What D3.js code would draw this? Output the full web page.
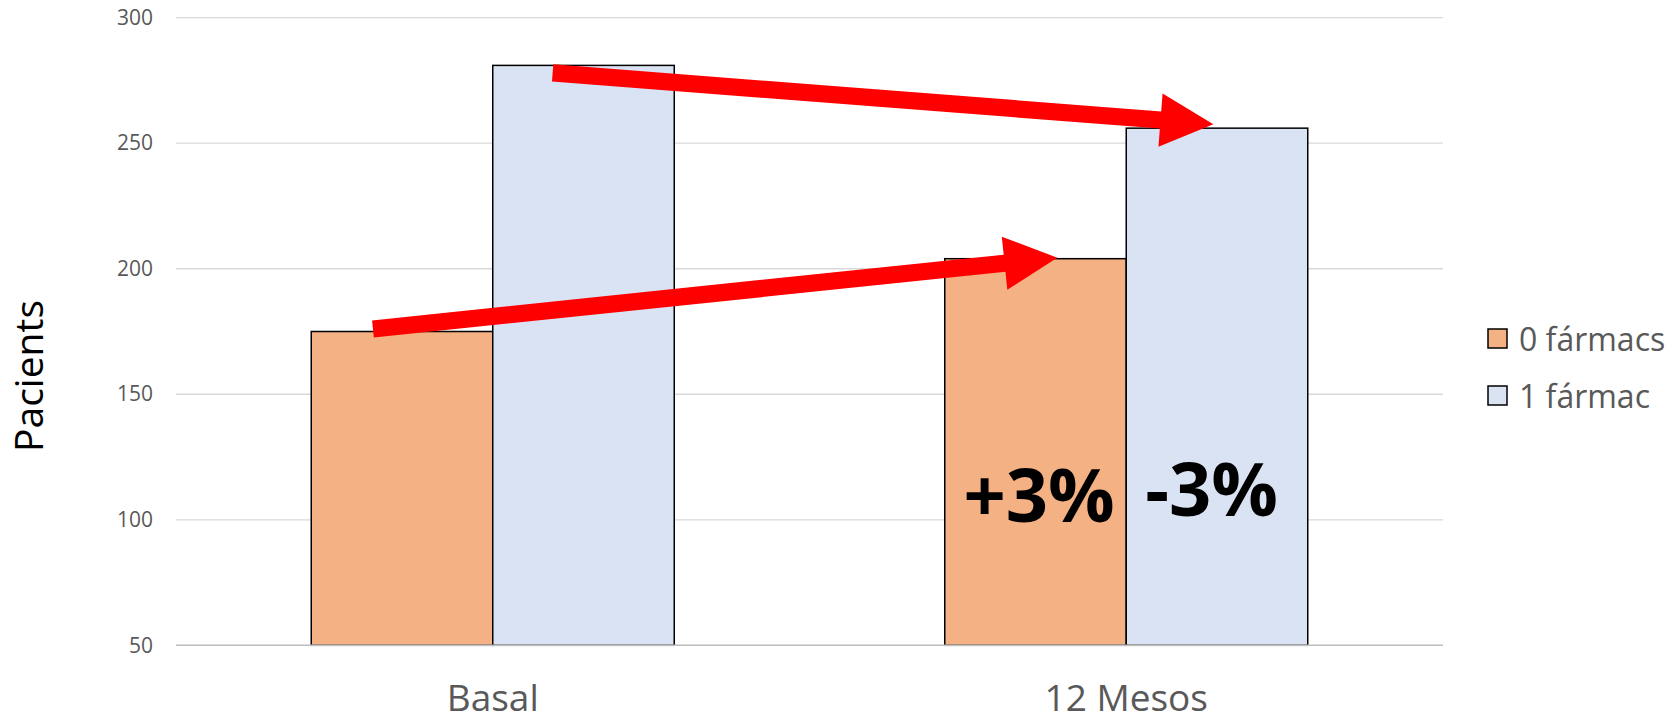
<!DOCTYPE html>
<html>
<head>
<meta charset="utf-8">
<script src="https://cdn.jsdelivr.net/npm/d3@7/dist/d3.min.js"></script>
<style>
  html, body { margin: 0; padding: 0; background: #fff; }
  svg { display: block; font-family: "Open Sans", "Noto Sans", sans-serif; }
</style>
</head>
<body>
<svg id="chart" width="1673" height="717"></svg>
<script>
// Patients per number of drugs, at baseline and after 12 months
const categories = ["Basal", "12 Mesos"];
const seriesNames = ["0 fármacs", "1 fármac"];
const seriesColors = ["#F4B183", "#DAE3F3"];
const zeroDrugs = [175, 204];
const oneDrug = [281, 256];
const yTicks = [50, 100, 150, 200, 250, 300];
const yTitle = "Pacients";

// Change labels placed on the 12-month bars
const changeLabels = ["+3%", "-3%"];
const changeSeries = [0, 1];
const changeAt = [0.52, 0.47];   // position across the bar (0..1)
const changeLevel = [99.3, 101.5]; // baseline height in axis units

// Arrows linking baseline to 12-month bars: [category, series, position across bar, value]
const arrowStarts = [["Basal", 0, 0.34, 176], ["Basal", 1, 0.33, 278]];
const arrowEnds = [["12 Mesos", 0, 0.62, 204.4], ["12 Mesos", 1, 0.48, 257.6]];

const values = [zeroDrugs, oneDrug];

const svg = d3.select("#chart");
const plot = { left: 176, right: 1443, top: 17.7, bottom: 645.3 };

const x = d3.scaleBand()
  .domain(categories)
  .range([plot.left, plot.right])
  .paddingInner(0.427)
  .paddingOuter(0.2135);

const xs = d3.scaleBand()
  .domain(d3.range(seriesNames.length))
  .range([0, x.bandwidth()]);

const y = d3.scaleLinear().domain([50, 300]).range([plot.bottom, plot.top]);

// Gridlines
svg.append("g")
  .selectAll("line")
  .data(yTicks)
  .join("line")
  .attr("x1", plot.left)
  .attr("x2", plot.right)
  .attr("y1", d => y(d))
  .attr("y2", d => y(d))
  .attr("stroke", "#d9d9d9")
  .attr("stroke-width", 1.3);

// Y axis labels
const yAxis = d3.axisLeft(y).tickValues(yTicks).tickSize(0).tickPadding(0);
svg.append("g")
  .attr("transform", `translate(153,0)`)
  .call(yAxis)
  .call(g => g.select(".domain").remove())
  .call(g => g.selectAll("text")
    .attr("fill", "#595959")
    .style("font-size", "21px")
    .style("font-family", "'Open Sans', sans-serif"));

// Bars
const rows = [];
categories.forEach((c, i) => {
  values.forEach((vals, s) => rows.push({ cat: c, s, v: vals[i] }));
});

svg.append("g")
  .selectAll("rect")
  .data(rows)
  .join("rect")
  .attr("x", d => x(d.cat) + xs(d.s))
  .attr("y", d => y(d.v))
  .attr("width", xs.bandwidth())
  .attr("height", d => y(50) - y(d.v))
  .attr("fill", d => seriesColors[d.s])
  .attr("stroke", "#000")
  .attr("stroke-width", 1.5);

// Category axis line
svg.append("line")
  .attr("x1", plot.left)
  .attr("x2", plot.right)
  .attr("y1", y(50))
  .attr("y2", y(50))
  .attr("stroke", "#bfbfbf")
  .attr("stroke-width", 1.5);

// Category labels
const xAxis = d3.axisBottom(x).tickSize(0).tickPadding(0);
svg.append("g")
  .attr("transform", `translate(0,${y(50)})`)
  .call(xAxis)
  .call(g => g.select(".domain").remove())
  .call(g => g.selectAll("text")
    .attr("y", 65.5)
    .attr("dy", null)
    .attr("fill", "#595959")
    .style("font-size", "37px")
    .style("font-family", "'Open Sans', sans-serif"));

// Y title
svg.append("text")
  .attr("transform", "translate(43,376) rotate(-90)")
  .attr("text-anchor", "middle")
  .attr("fill", "#000")
  .style("font-size", "39px")
  .text(yTitle);

// Arrows
function pointOf(a) {
  const [cat, s, pos, v] = a;
  return [x(cat) + xs(s) + pos * xs.bandwidth(), y(v)];
}
const shaftHalf = 8.6, headLen = 53, headHalf = 26.7;
arrowStarts.forEach((a, i) => {
  const S = pointOf(a), T = pointOf(arrowEnds[i]);
  const dx = T[0] - S[0], dy = T[1] - S[1];
  const len = Math.hypot(dx, dy);
  const ux = dx / len, uy = dy / len;
  const nx = -uy, ny = ux;
  const B = [T[0] - ux * headLen, T[1] - uy * headLen];
  const pts = [
    [S[0] + nx * shaftHalf, S[1] + ny * shaftHalf],
    [B[0] + nx * shaftHalf, B[1] + ny * shaftHalf],
    [B[0] + nx * headHalf, B[1] + ny * headHalf],
    T,
    [B[0] - nx * headHalf, B[1] - ny * headHalf],
    [B[0] - nx * shaftHalf, B[1] - ny * shaftHalf],
    [S[0] - nx * shaftHalf, S[1] - ny * shaftHalf]
  ];
  svg.append("path")
    .attr("d", d3.line()(pts) + "Z")
    .attr("fill", "#ff0000");
});

// Change labels
changeLabels.forEach((t, i) => {
  const s = changeSeries[i];
  svg.append("text")
    .attr("x", x(categories[1]) + xs(s) + changeAt[i] * xs.bandwidth())
    .attr("y", y(changeLevel[i]))
    .attr("text-anchor", "middle")
    .attr("fill", "#000")
    .style("font-size", "74px")
    .style("font-weight", "700")
    .text(t);
});

// Legend
const legend = svg.append("g").attr("transform", "translate(1488,329)");
seriesNames.forEach((name, i) => {
  const g = legend.append("g").attr("transform", `translate(0,${i * 57})`);
  g.append("rect")
    .attr("width", 19).attr("height", 19)
    .attr("fill", seriesColors[i])
    .attr("stroke", "#000").attr("stroke-width", 1.5);
  g.append("text")
    .attr("x", 31).attr("y", 9.5)
    .attr("dominant-baseline", "central")
    .attr("fill", "#595959")
    .style("font-size", "32px")
    .text(name);
});
</script>
</body>
</html>
